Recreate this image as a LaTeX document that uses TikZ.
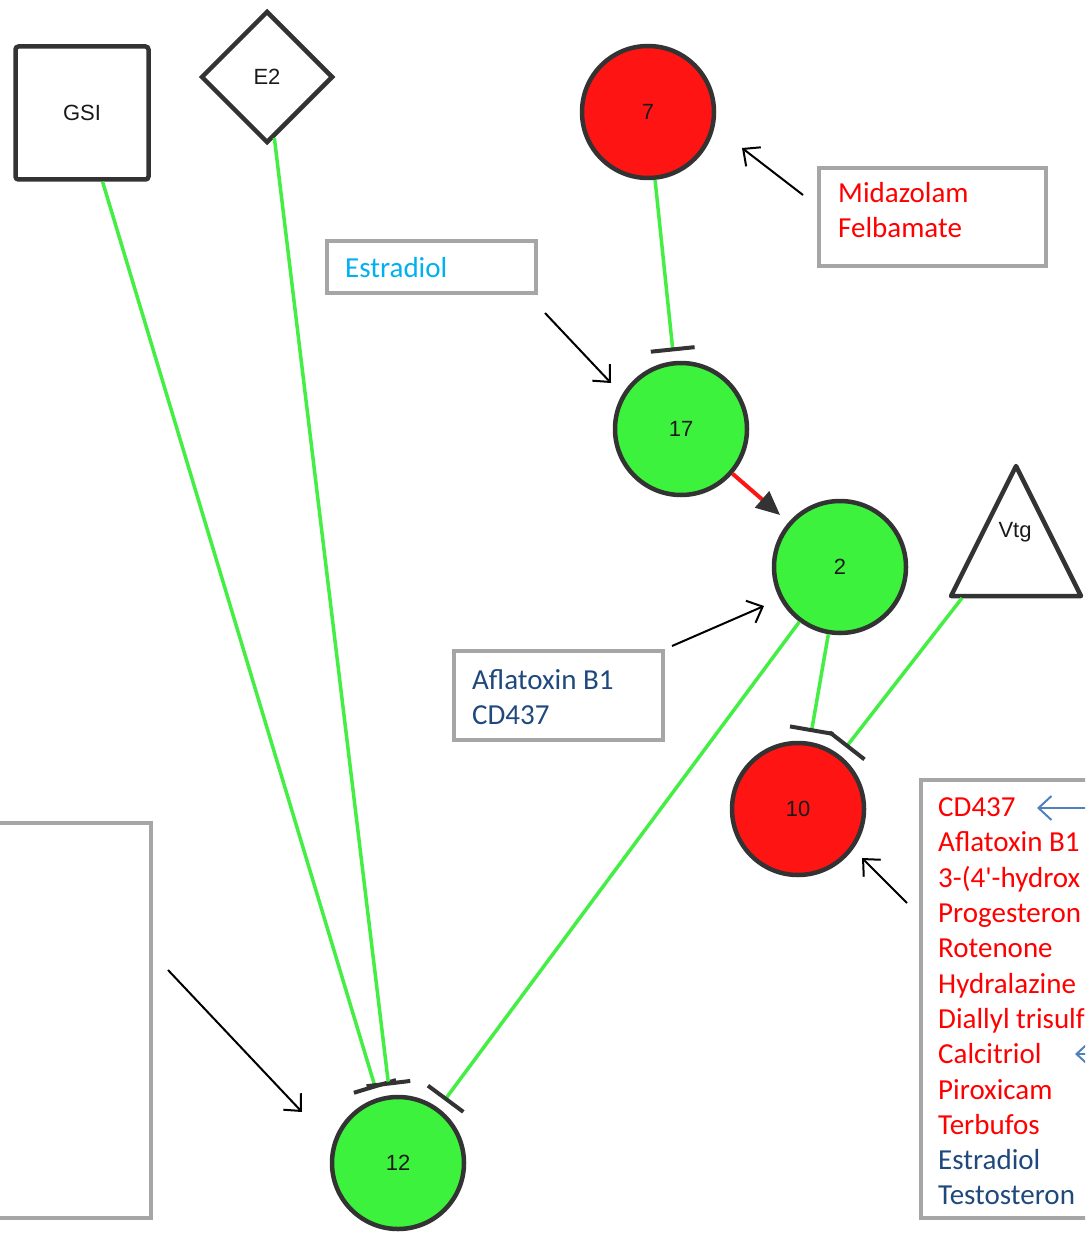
\documentclass[tikz,border=0pt]{standalone}
\usepackage{fontspec}
\setmainfont{Carlito}
\newfontfamily\nodefont{Liberation Sans}
\usetikzlibrary{shapes.geometric,arrows.meta,calc,fit}

\definecolor{nred}{HTML}{FF1414}
\definecolor{ngreen}{HTML}{3CF23C}
\definecolor{edgegreen}{HTML}{44EE44}
\definecolor{bordergray}{HTML}{333333}
\definecolor{labeltext}{HTML}{1A1A1A}
\definecolor{boxgray}{HTML}{A6A6A6}
\definecolor{txtred}{HTML}{FF0000}
\definecolor{txtlblue}{HTML}{00B0F0}
\definecolor{txtdblue}{HTML}{1F497D}
\definecolor{arrblue}{HTML}{4F81BD}

\newcommand\inhib[3]{%
  \coordinate (#3) at ($(#2)!80pt!(#1)$);
  \draw[gedge] (#1) -- (#3);
  \draw[tbar] ($(#3)!22pt!90:(#1)$) -- ($(#3)!22pt!-90:(#1)$);}

\begin{document}
\begin{tikzpicture}[x=1pt,y=-1pt,
  lbl/.style={font=\nodefont\fontsize{22}{26}\selectfont, text=labeltext},
  gene/.style={circle, draw=bordergray, line width=4.5pt, minimum size=132pt, inner sep=0pt, lbl},
  redgene/.style={gene, fill=nred},
  greengene/.style={gene, fill=ngreen},
  gedge/.style={draw=edgegreen, line width=3.5pt},
  tbar/.style={draw=bordergray, line width=4pt},
  redge/.style={draw=nred, line width=4pt, shorten >=11pt, -{Triangle[length=24pt,width=21pt,color=bordergray]}},
  annbox/.style={draw=boxgray, line width=4pt, inner sep=0pt},
  anntext/.style={font=\fontsize{29}{35.3}\selectfont, align=left, inner sep=0pt, anchor=west},
  callout/.style={draw=black, line width=2pt, -{Straight Barb[length=13pt,width=24pt]}},
  bluecallout/.style={draw=arrblue, line width=2pt, -{Straight Barb[length=13pt,width=24pt]}},
]
\useasboundingbox (0,0) rectangle (1085,1233);
\clip (0,0) rectangle (1085,1233);

% shapes
\node[rectangle, draw=bordergray, line width=4.5pt, minimum size=133pt, rounded corners=3pt, fill=white, lbl] (gsi) at (82,113) {GSI};
\node[diamond, draw=bordergray, line width=4.5pt, minimum width=132pt, minimum height=132pt, inner sep=0pt, fill=white, lbl] (e2) at (267,77) {E2};
\node[redgene] (n7) at (648,112) {7};
\node[greengene] (n17) at (681,429) {17};
\node[greengene] (n2) at (840,567) {2};
\node[redgene] (n10) at (798,809) {10};
\node[greengene] (n12) at (398,1163) {12};
\draw[draw=bordergray, line width=4.5pt, line join=round, fill=white] (1016,466) -- (1081,596) -- (951,596) -- cycle;
\node[lbl] (vtg) at (1015,532) {Vtg};
\coordinate (vtgout) at (962,598);

% edges
\inhib{gsi}{n12}{t12a}
\inhib{e2}{n12}{t12b}
\inhib{n2}{n12}{t12c}
\inhib{n7}{n17}{t17}
\inhib{n2}{n10}{t10a}
\inhib{vtgout}{n10}{t10b}
\draw[redge] (n17) -- (n2);

% annotation boxes
\node[annbox, fit={(819,168) (1046,266)}] (midbox) {};
\node[anntext, text=txtred] (midtext) at (838,210) {Midazolam\\Felbamate};
\node[annbox, fit={(327,241) (536,293)}] (estbox) {};
\node[anntext, text=txtlblue] (esttext) at (345,268) {Estradiol};
\node[annbox, fit={(454,651) (663,740)}] (aflabox) {};
\node[anntext, text=txtdblue] (aflatext) at (472,697) {Aflatoxin B1\\CD437};
\node[annbox, fit={(-10,823) (151,1218)}] (leftbox) {};
\node[annbox, fit={(921,780) (1100,1218)}] (listbox) {};
\node[anntext] (listtext) at (938,1001.5) {%
\textcolor{txtred}{CD437}\\
\textcolor{txtred}{Aflatoxin B1}\\
\textcolor{txtred}{3-(4\textquotesingle-hydrox}\\
\textcolor{txtred}{Progesteron}\\
\textcolor{txtred}{Rotenone}\\
\textcolor{txtred}{Hydralazine}\\
\textcolor{txtred}{Diallyl trisulf}\\
\textcolor{txtred}{Calcitriol}\\
\textcolor{txtred}{Piroxicam}\\
\textcolor{txtred}{Terbufos}\\
\textcolor{txtdblue}{Estradiol}\\
\textcolor{txtdblue}{Testosteron}};

% callout arrows
\coordinate (c1s) at (803,195); \coordinate (c1e) at (742,148);
\coordinate (c2s) at (545,313); \coordinate (c2e) at (611,383);
\coordinate (c3s) at (672,646); \coordinate (c3e) at (764,606);
\coordinate (c4s) at (168,970); \coordinate (c4e) at (302,1112);
\coordinate (c5s) at (907,903); \coordinate (c5e) at (862,858);
\draw[callout] (c1s) -- (c1e);
\draw[callout] (c2s) -- (c2e);
\draw[callout] (c3s) -- (c3e);
\draw[callout] (c4s) -- (c4e);
\draw[callout] (c5s) -- (c5e);
\coordinate (b1s) at (1095,808); \coordinate (b1e) at (1037,808);
\coordinate (b2s) at (1110,1054); \coordinate (b2e) at (1075,1054);
\draw[bluecallout] (b1s) -- (b1e);
\draw[bluecallout] (b2s) -- (b2e);
\end{tikzpicture}
\end{document}
